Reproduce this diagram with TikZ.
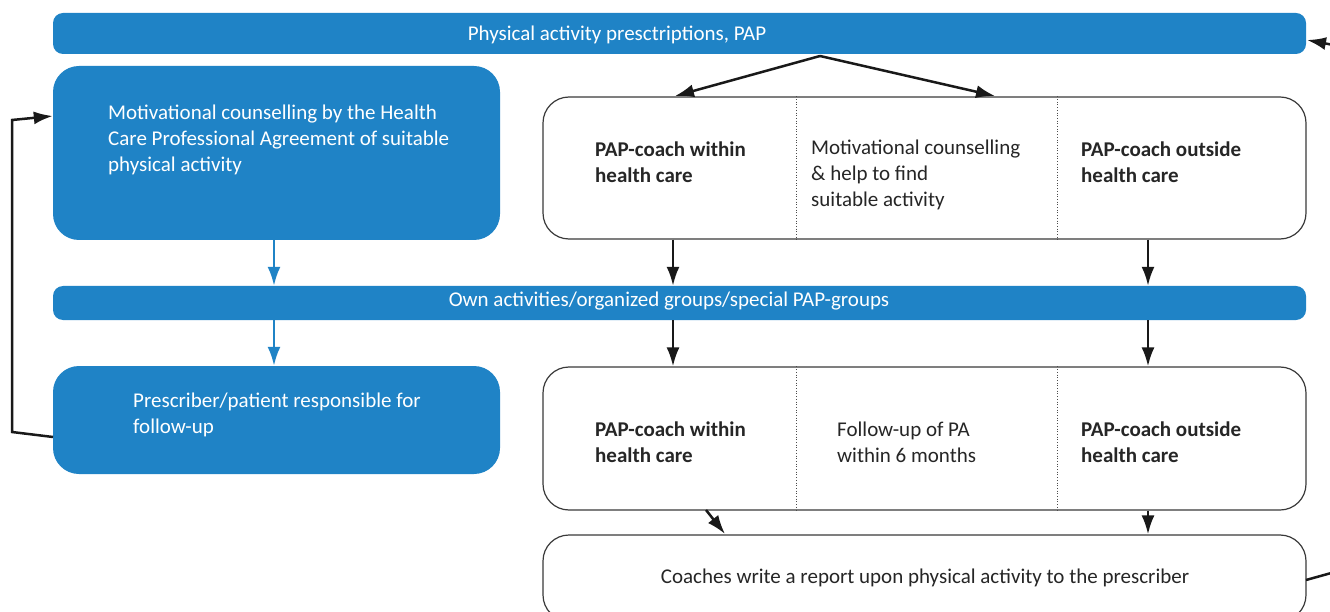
\documentclass[tikz,border=0pt]{standalone}
\usepackage{fontspec}
\setmainfont{Carlito}
\usetikzlibrary{arrows.meta}
\definecolor{papblue}{HTML}{1F83C6}
\definecolor{boxline}{HTML}{3A3A3A}
\begin{document}
\begin{tikzpicture}[x=1pt,y=-1pt,
  font=\fontsize{21}{26}\selectfont,
  bluebar/.style={fill=papblue, draw=none, rounded corners=10pt, inner sep=0pt},
  bluebox/.style={fill=papblue, draw=none, rounded corners=26pt, inner sep=0pt},
  whitebox/.style={fill=white, draw=boxline, line width=1.2pt, rounded corners=26pt, inner sep=0pt},
  wtext/.style={text=white, inner sep=0pt},
  btext/.style={text=black!85, inner sep=0pt, align=left, anchor=west},
  bbold/.style={btext, font=\fontsize{21}{26}\selectfont\bfseries},
  divider/.style={draw=black!70, dotted, line width=0.7pt},
  blk/.style={draw=black!90, line width=2.5pt, -{Latex[length=19pt,width=13pt]}},
  blu/.style={draw=papblue, line width=2.5pt, -{Latex[length=19pt,width=13pt]}},
]
\useasboundingbox (0,0) rectangle (1330,612);
\clip (0,0) rectangle (1330,612);

% top bar
\node[bluebar, minimum width=1253pt, minimum height=41pt] (top) at (679.5,33.5) {};
\node[wtext] (toptxt) at (617,35) {Physical activity presctriptions, PAP};

% left box 1
\node[bluebox, minimum width=447pt, minimum height=174pt] (lb1) at (276.5,153) {};
\node[wtext, align=left, anchor=west] (lb1txt) at (108,140) {Motivational counselling by the Health\\Care Professional Agreement of suitable\\physical activity};

% right box 1
\node[whitebox, minimum width=763pt, minimum height=142pt] (rb1) at (924.5,168) {};
\draw[divider] (rb1.north -| 796,0) -- (rb1.south -| 796,0);
\draw[divider] (rb1.north -| 1057,0) -- (rb1.south -| 1057,0);
\node[bbold] (rb1a) at (595,162) {PAP-coach within\\health care};
\node[btext] (rb1b) at (811,175) {Motivational counselling\\\& help to find\\suitable activity};
\node[bbold] (rb1c) at (1081,162) {PAP-coach outside\\health care};

% middle bar
\node[bluebar, minimum width=1253pt, minimum height=34pt] (mid) at (679.5,303) {};
\node[wtext] (midtxt) at (669,301) {Own activities/organized groups/special PAP-groups};

% left box 2
\node[bluebox, minimum width=447pt, minimum height=108pt] (lb2) at (276.5,420) {};
\node[wtext, align=left, anchor=west] (lb2txt) at (133,415) {Prescriber/patient responsible for\\follow-up};

% right box 2
\node[whitebox, minimum width=763pt, minimum height=143pt] (rb2) at (924.5,438.5) {};
\draw[divider] (rb2.north -| 796,0) -- (rb2.south -| 796,0);
\draw[divider] (rb2.north -| 1057,0) -- (rb2.south -| 1057,0);
\node[bbold] (rb2a) at (595,442) {PAP-coach within\\health care};
\node[btext] (rb2b) at (837,442) {Follow-up of PA\\within 6 months};
\node[bbold] (rb2c) at (1081,442) {PAP-coach outside\\health care};

% bottom box
\node[whitebox, minimum width=763pt, minimum height=86pt] (bot) at (924.5,578) {};
\node[text=black!85, inner sep=0pt] (bottxt) at (925,578) {Coaches write a report upon physical activity to the prescriber};

% arrows from top bar
\coordinate (tsplit) at (820,56);
\draw[blk] (tsplit) -- (675,96);
\draw[blk] (tsplit) -- (995,96);

% down arrows row 1
\draw[blu] (lb1.south -| 274,0) -- (mid.north -| 274,0);
\draw[blk] (rb1.south -| 673,0) -- (mid.north -| 673,0);
\draw[blk] (rb1.south -| 1148,0) -- (mid.north -| 1148,0);

% down arrows row 2
\draw[blu] (mid.south -| 274,0) -- (lb2.north -| 274,0);
\draw[blk] (mid.south -| 673,0) -- (rb2.north -| 673,0);
\draw[blk] (mid.south -| 1148,0) -- (rb2.north -| 1148,0);

% to bottom box
\draw[blk] (706,510) -- (725,534);
\draw[blk] (rb2.south -| 1148,0) -- (bot.north -| 1148,0);

% left feedback loop
\coordinate (lf1) at (12,432);
\coordinate (lf2) at (12,120);
\draw[blk] (53,437) -- (lf1) -- (lf2) -- (lb1.west |- 0,116);

% right feedback loop (runs off the page)
\coordinate (rf1) at (1360,565);
\coordinate (rf2) at (1360,50);
\draw[blk] (1306,580) -- (rf1) -- (rf2) -- (1307,40);
\end{tikzpicture}
\end{document}
